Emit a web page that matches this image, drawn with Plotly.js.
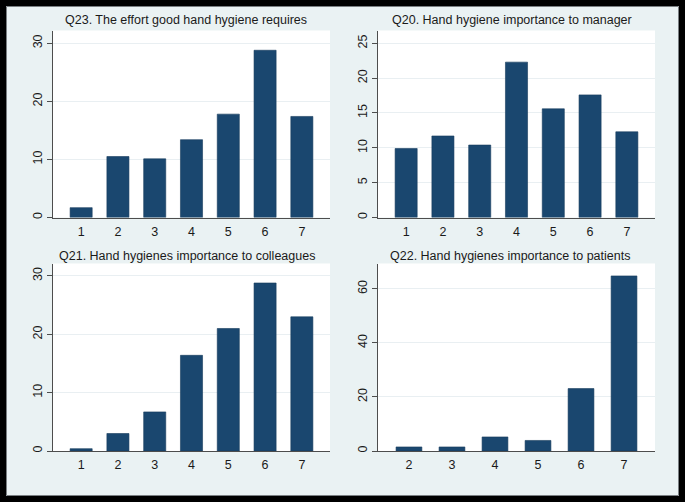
<!DOCTYPE html>
<html>
<head>
<meta charset="utf-8">
<script src="https://cdn.plot.ly/plotly-3.0.1.min.js"></script>
<style>
html,body{margin:0;padding:0;background:#eaf2f3;}
#chart{width:685px;height:502px;}
</style>
</head>
<body>
<div id="chart"></div>
<script>
// ---- data (percent of respondents per answer) ----
const titles = [
  "Q23. The effort good hand hygiene requires",
  "Q20. Hand hygiene importance to manager",
  "Q21. Hand hygienes importance to colleagues",
  "Q22. Hand hygienes importance to patients"
];
const categoriesQ23 = [1, 2, 3, 4, 5, 6, 7];
const valuesQ23 = [1.7, 10.5, 10.1, 13.4, 17.8, 28.8, 17.4];

const categoriesQ20 = [1, 2, 3, 4, 5, 6, 7];
const valuesQ20 = [9.9, 11.7, 10.4, 22.3, 15.6, 17.6, 12.3];

const categoriesQ21 = [1, 2, 3, 4, 5, 6, 7];
const valuesQ21 = [0.4, 3.0, 6.7, 16.4, 21.0, 28.8, 23.0];

const categoriesQ22 = [2, 3, 4, 5, 6, 7];
const valuesQ22 = [1.5, 1.5, 5.2, 3.9, 23.1, 64.8];

// ---- styling ----
const W = 685, H = 502;
const barColor = "#1a476f";
const bg = "#eaf2f3";
const axisColor = "#4d4d4d";
const gridColor = "#e9eff2";
const fontFam = "Liberation Sans, Arial, sans-serif";
const textColor = "#1a1a1a";

function px(x){ return x / W; }
function py(y){ return 1 - y / H; }

const panels = [
  {cats: categoriesQ23, vals: valuesQ23, x0: 53, x1: 330, y0: 30.5, y1: 217.5, yr: [0, 32.2], dt: 10, xr: [0.235, 7.765], tx: 186, ty: 20},
  {cats: categoriesQ20, vals: valuesQ20, x0: 378, x1: 655, y0: 30.5, y1: 217.5, yr: [0, 26.84], dt: 5, xr: [0.235, 7.765], tx: 511.5, ty: 20},
  {cats: categoriesQ21, vals: valuesQ21, x0: 53, x1: 330, y0: 263.5, y1: 451, yr: [0, 32.14], dt: 10, xr: [0.235, 7.765], tx: 186.5, ty: 256},
  {cats: categoriesQ22, vals: valuesQ22, x0: 378, x1: 655, y0: 263.5, y1: 451, yr: [0, 69.4], dt: 20, xr: [1.28, 7.72], tx: 510, ty: 256}
];

const traces = [];
const layout = {
  width: W, height: H,
  margin: {l: 0, r: 0, t: 0, b: 0},
  paper_bgcolor: bg,
  plot_bgcolor: "#ffffff",
  showlegend: false,
  font: {family: fontFam, size: 12, color: textColor},
  annotations: [],
  shapes: [
    {
      type: "rect", xref: "paper", yref: "paper",
      x0: px(3), x1: px(682), y0: py(499), y1: py(3),
      line: {color: "#000000", width: 6}, fillcolor: "rgba(0,0,0,0)", layer: "above"
    },
    {
      type: "rect", xref: "paper", yref: "paper",
      x0: px(6.5), x1: px(678.5), y0: py(495.5), y1: py(6.5),
      line: {color: "#7a7f82", width: 1}, fillcolor: "rgba(0,0,0,0)", layer: "above"
    }
  ]
};

panels.forEach((p, i) => {
  const n = i + 1;
  const xa = n === 1 ? "xaxis" : "xaxis" + n;
  const ya = n === 1 ? "yaxis" : "yaxis" + n;
  traces.push({
    type: "bar",
    x: p.cats,
    y: p.vals,
    width: 0.6,
    xaxis: "x" + (n === 1 ? "" : n),
    yaxis: "y" + (n === 1 ? "" : n),
    marker: {color: barColor, line: {color: "#153b5d", width: 0.6}},
    hoverinfo: "x+y"
  });
  layout[xa] = {
    domain: [px(p.x0), px(p.x1)],
    anchor: "y" + (n === 1 ? "" : n),
    range: p.xr,
    tickvals: p.cats,
    ticktext: p.cats.map(String),
    showgrid: false,
    zeroline: false,
    showline: true,
    linecolor: axisColor,
    linewidth: 1,
    ticks: "",
    ticklabelstandoff: 2,
    tickfont: {family: fontFam, size: 12.5, color: textColor},
    fixedrange: true
  };
  layout[ya] = {
    domain: [py(p.y1), py(p.y0)],
    anchor: "x" + (n === 1 ? "" : n),
    range: p.yr,
    dtick: p.dt,
    tick0: 0,
    showgrid: true,
    gridcolor: gridColor,
    gridwidth: 1,
    zeroline: false,
    showline: true,
    linecolor: axisColor,
    linewidth: 1,
    ticks: "outside",
    ticklen: 5,
    tickcolor: axisColor,
    tickangle: -90,
    tickfont: {family: fontFam, size: 12.5, color: textColor},
    fixedrange: true
  };
  layout.annotations.push({
    text: titles[i],
    xref: "paper", yref: "paper",
    x: px(p.tx), y: py(p.ty),
    xanchor: "center", yanchor: "middle",
    showarrow: false,
    font: {family: fontFam, size: 12.5, color: textColor}
  });
});

Plotly.newPlot("chart", traces, layout, {displayModeBar: false, staticPlot: true});
</script>
</body>
</html>
